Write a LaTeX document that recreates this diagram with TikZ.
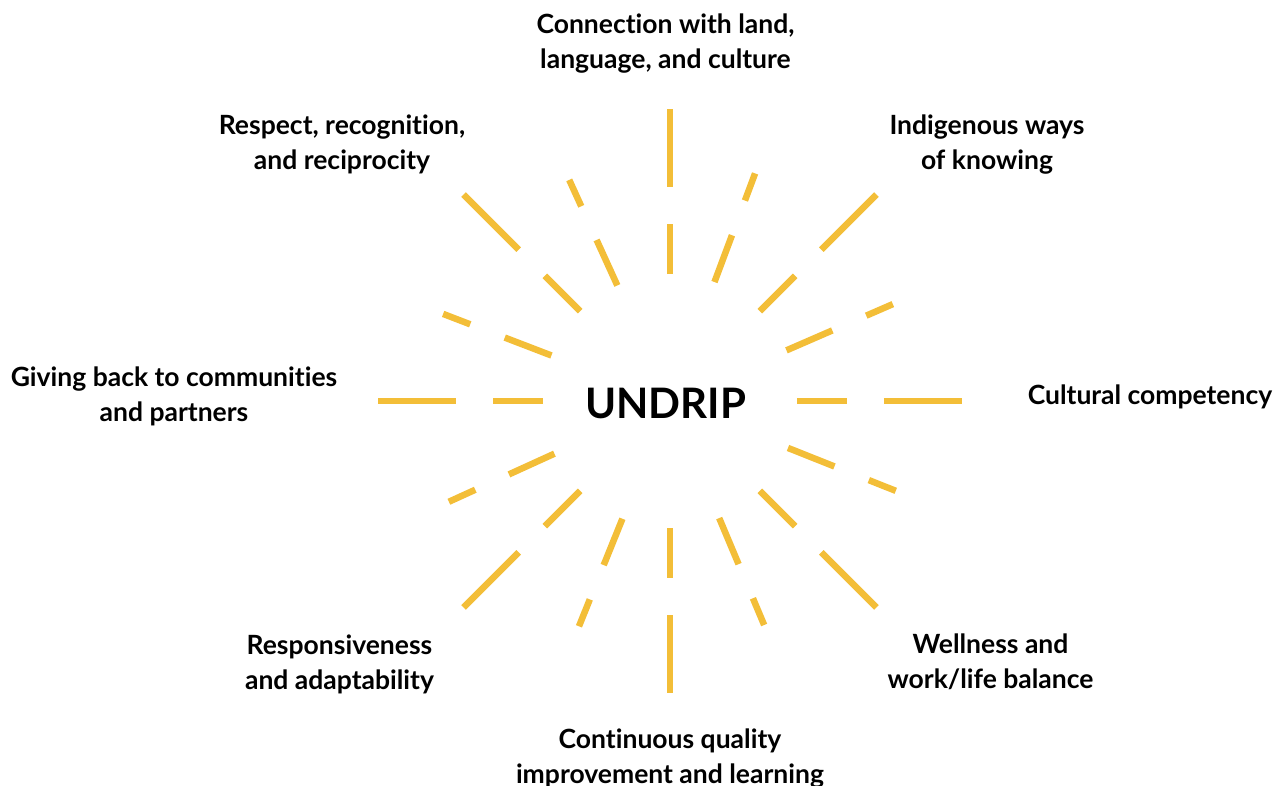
\documentclass[tikz,border=0pt]{standalone}
\usepackage{fontspec}
\setmainfont{Lato}[Ligatures=NoCommon]
\usepackage{tikz}
\definecolor{sunray}{RGB}{243,190,56}

\begin{document}
\begin{tikzpicture}[
  x=1pt, y=1pt,
  ray/.style={draw=sunray, line width=6.5pt},
  goal/.style={align=center, inner sep=0pt, font=\fontsize{26.5}{35}\selectfont\bfseries},
  hub/.style={inner sep=0pt, font=\fontsize{42}{48}\selectfont\bfseries},
]
\useasboundingbox (-670,-384) rectangle (616,401);
\node[hub] (undrip) at (-4.5,-2) {UNDRIP};
\foreach \ang/\len in {0/292, 23.5/243, 45/292, 69.5/243, 90/292, 114.5/243, 135/292, 159/243,
                       180/292, 204.5/243, 225/292, 248/243, 270/292, 292.8/243, 315/292, 338.3/243}
  \draw[ray] (\ang:127) -- (\ang:177) (\ang:214) -- (\ang:\len);
\node[goal] (land) at (-4.5,357) {Connection with land,\\language, and culture};
\node[goal] (knowing) at (317,256) {Indigenous ways\\of knowing};
\node[goal] (competency) at (480,4.5) {Cultural competency};
\node[goal] (wellness) at (320.5,-260.5) {Wellness and\\work/life balance};
\node[goal] (learning) at (0,-357.5) {Continuous quality\\improvement and learning};
\node[goal] (adapt) at (-330.5,-263.5) {Responsiveness\\and adaptability};
\node[goal] (giving) at (-496,5) {Giving back to communities\\and partners};
\node[goal] (respect) at (-328,257) {Respect, recognition,\\and reciprocity};
\end{tikzpicture}
\end{document}
